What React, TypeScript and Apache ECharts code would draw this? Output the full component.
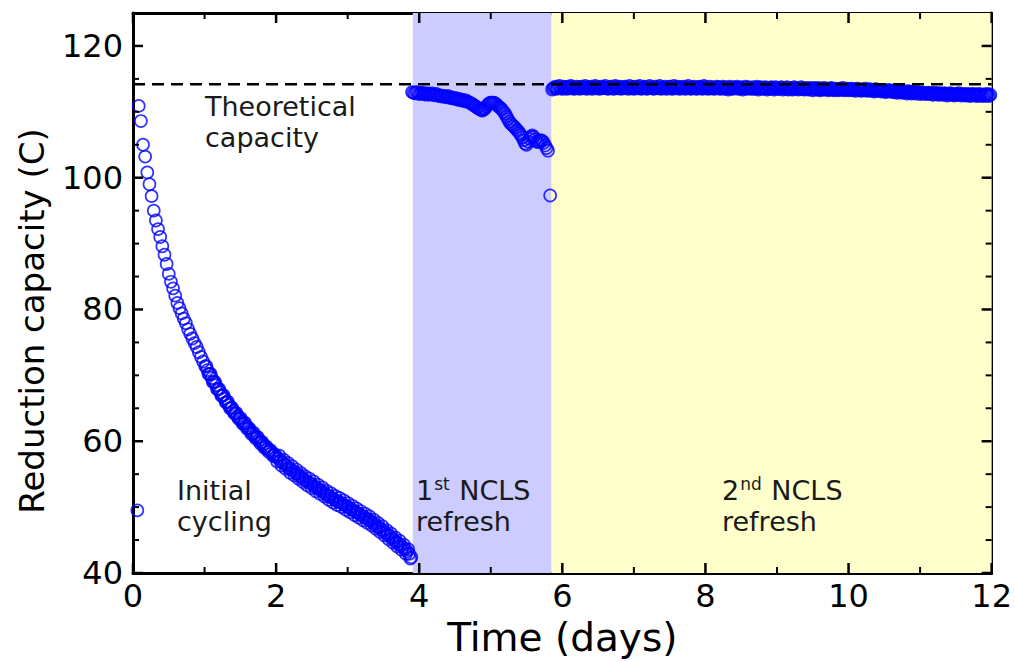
import React, { useEffect, useRef } from "react";
import * as echarts from "echarts";

// Initial cycling: [time (days), reduction capacity (C)]
const initialCycling: [number, number][] = [
  [0.06, 49.5], [0.08, 110.9], [0.11, 108.6], [0.14, 105.0], [0.17, 103.2], [0.20, 100.8],
  [0.23, 99.0], [0.26, 97.2], [0.29, 95.0], [0.32, 93.5], [0.35, 92.2], [0.38, 91.0],
  [0.41, 89.6], [0.44, 88.3], [0.47, 86.9], [0.50, 85.4], [0.53, 84.2], [0.56, 83.2],
  [0.59, 82.1], [0.62, 81.0], [0.65, 80.2], [0.68, 79.4], [0.71, 78.6], [0.74, 77.9],
  [0.77, 77.0], [0.80, 76.3], [0.83, 75.6], [0.86, 74.9], [0.89, 74.3], [0.92, 73.5],
  [0.95, 72.8], [0.98, 72.1], [1.01, 71.4], [1.04, 70.8], [1.07, 70.2], [1.10, 69.6],
  [1.13, 69.0], [1.16, 68.5], [1.19, 67.9], [1.22, 67.4], [1.25, 66.9], [1.28, 66.5],
  [1.31, 65.9], [1.34, 65.5], [1.37, 65.0], [1.40, 64.6], [1.43, 64.3], [1.46, 63.8],
  [1.49, 63.5], [1.52, 63.0], [1.55, 62.7], [1.58, 62.3], [1.61, 62.0], [1.64, 61.5],
  [1.67, 61.2], [1.70, 60.8], [1.73, 60.6], [1.76, 60.1], [1.79, 59.8], [1.82, 59.5],
  [1.85, 59.1], [1.88, 58.8], [1.91, 58.6], [1.94, 58.2], [1.97, 57.9], [2.00, 57.6],
  [2.03, 57.4], [2.06, 57.0], [2.09, 56.8], [2.12, 56.5], [2.15, 56.3], [2.18, 55.9],
  [2.21, 55.7], [2.24, 55.5], [2.27, 55.2], [2.30, 55.0], [2.33, 54.7], [2.36, 54.5],
  [2.39, 54.2], [2.42, 54.0], [2.45, 53.8], [2.48, 53.6], [2.51, 53.4], [2.54, 53.1],
  [2.57, 52.9], [2.60, 52.7], [2.63, 52.5], [2.66, 52.3], [2.69, 52.0], [2.72, 51.8],
  [2.75, 51.6], [2.78, 51.4], [2.81, 51.2], [2.84, 51.0], [2.87, 50.8], [2.90, 50.7],
  [2.93, 50.5], [2.96, 50.3], [2.99, 50.1], [3.02, 49.9], [3.05, 49.7], [3.08, 49.5],
  [3.11, 49.3], [3.14, 49.1], [3.17, 48.9], [3.20, 48.7], [3.23, 48.5], [3.26, 48.3],
  [3.29, 48.1], [3.32, 47.9], [3.35, 47.6], [3.38, 47.4], [3.41, 47.1], [3.44, 46.9],
  [3.47, 46.6], [3.50, 46.4], [3.53, 46.1], [3.56, 45.8], [3.59, 45.6], [3.62, 45.3],
  [3.65, 45.0], [3.68, 44.7], [3.71, 44.4], [3.74, 44.2], [3.77, 43.9], [3.80, 43.6],
  [3.83, 43.3], [3.86, 42.9], [3.89, 42.4],
  [1.025, 71.4], [1.055, 70.2], [1.085, 70.2], [1.115, 69.0], [1.145, 69.0], [1.175, 67.9],
  [1.205, 67.9], [1.235, 66.9], [1.265, 67.0], [1.295, 65.9], [1.325, 66.0], [1.355, 65.0],
  [1.385, 65.1], [1.415, 64.2], [1.445, 64.3], [1.475, 63.4], [1.505, 63.5], [1.535, 62.6],
  [1.565, 62.8], [1.595, 61.9], [1.625, 62.0], [1.655, 61.1], [1.685, 61.3], [1.715, 60.4],
  [1.745, 60.6], [1.775, 59.7], [1.805, 59.9], [1.835, 59.0], [1.865, 59.2], [1.895, 58.4],
  [1.925, 58.6], [1.955, 57.8], [1.985, 58.0],
  [2.015, 56.9], [2.045, 57.8], [2.075, 56.3], [2.105, 57.2], [2.135, 55.8], [2.165, 56.7],
  [2.195, 55.2], [2.225, 56.2], [2.255, 54.8], [2.285, 55.7], [2.315, 54.3], [2.345, 55.2],
  [2.375, 53.8], [2.405, 54.7], [2.435, 53.3], [2.465, 54.3], [2.495, 52.9], [2.525, 53.9],
  [2.555, 52.4], [2.585, 53.4], [2.615, 52.0], [2.645, 53.0], [2.675, 51.6], [2.705, 52.5],
  [2.735, 51.1], [2.765, 52.1], [2.795, 50.7], [2.825, 51.7], [2.855, 50.3], [2.885, 51.4],
  [2.915, 50.0], [2.945, 51.0], [2.975, 49.6], [3.005, 50.6], [3.035, 49.2], [3.065, 50.2],
  [3.095, 48.8], [3.125, 49.8], [3.155, 48.4], [3.185, 49.4], [3.215, 48.0], [3.245, 49.0],
  [3.275, 47.6], [3.305, 48.6], [3.335, 47.2], [3.365, 48.1], [3.395, 46.7], [3.425, 47.6],
  [3.455, 46.2], [3.485, 47.1], [3.515, 45.7], [3.545, 46.5], [3.575, 45.1], [3.605, 46.0],
  [3.635, 44.6], [3.665, 45.4], [3.695, 44.0], [3.725, 44.9], [3.755, 43.5], [3.785, 44.3],
  [3.815, 42.9], [3.845, 43.6], [3.875, 42.2],
];

// 1st NCLS refresh
const firstRefresh: [number, number][] = [
  [3.90, 113.0], [3.92, 112.9], [3.94, 112.8], [3.96, 113.0], [3.98, 112.9], [4.00, 112.7],
  [4.02, 112.8], [4.04, 112.9], [4.06, 112.7], [4.08, 112.8], [4.10, 112.6], [4.12, 112.8],
  [4.14, 112.7], [4.16, 112.6], [4.18, 112.8], [4.20, 112.6], [4.22, 112.5], [4.24, 112.7],
  [4.26, 112.5], [4.28, 112.4], [4.30, 112.5], [4.32, 112.3], [4.34, 112.4], [4.36, 112.3],
  [4.38, 112.2], [4.40, 112.4], [4.42, 112.2], [4.44, 112.1], [4.46, 112.2], [4.48, 112.0],
  [4.50, 112.1], [4.52, 111.9], [4.54, 112.0], [4.56, 111.8], [4.58, 111.9], [4.60, 111.7],
  [4.62, 111.8], [4.64, 111.6], [4.66, 111.7], [4.68, 111.5], [4.70, 111.4], [4.72, 111.3],
  [4.74, 111.2], [4.76, 111.0], [4.78, 110.9], [4.80, 110.7], [4.82, 110.6], [4.84, 110.4],
  [4.86, 110.3], [4.88, 110.2], [4.90, 110.3], [4.92, 110.5], [4.94, 110.8], [4.96, 111.1],
  [4.98, 111.3], [5.00, 111.4], [5.02, 111.4], [5.04, 111.4], [5.06, 111.3], [5.08, 111.1],
  [5.10, 110.9], [5.12, 110.7], [5.14, 110.5], [5.16, 110.3], [5.18, 110.0], [5.20, 109.7],
  [5.22, 109.3], [5.24, 108.9], [5.26, 108.5], [5.28, 108.2], [5.30, 108.0], [5.32, 107.8],
  [5.34, 107.6], [5.36, 107.3], [5.38, 107.1], [5.40, 106.8], [5.42, 106.5], [5.44, 106.1],
  [5.46, 105.7], [5.48, 105.2], [5.50, 105.0], [5.52, 105.5], [5.54, 105.9], [5.56, 106.2],
  [5.58, 106.4], [5.60, 106.2], [5.62, 105.8], [5.64, 105.5], [5.66, 105.4], [5.68, 105.6],
  [5.70, 105.7], [5.72, 105.6], [5.74, 105.3], [5.76, 104.9], [5.78, 104.5], [5.80, 104.1],
  [5.83, 97.3],
];

// 2nd NCLS refresh
const secondRefresh: [number, number][] = [
  [5.86, 113.4], [5.88, 113.6], [5.90, 113.8], [5.92, 113.5], [5.94, 113.7], [5.96, 113.9], [5.98, 113.6], [6.00, 113.5], [6.02, 113.8], [6.04, 113.7],
  [6.06, 113.5], [6.08, 113.8], [6.10, 113.6], [6.12, 113.9], [6.14, 113.7], [6.16, 113.5], [6.18, 113.6], [6.20, 113.8], [6.22, 113.7], [6.24, 113.5],
  [6.26, 113.8], [6.28, 113.6], [6.30, 113.7], [6.32, 113.9], [6.34, 113.5], [6.36, 113.7], [6.38, 113.6], [6.40, 113.8], [6.42, 113.5], [6.44, 113.7],
  [6.46, 113.9], [6.48, 113.6], [6.50, 113.7], [6.52, 113.5], [6.54, 113.8], [6.56, 113.6], [6.58, 113.7], [6.60, 113.9], [6.62, 113.6], [6.64, 113.5],
  [6.66, 113.7], [6.68, 113.8], [6.70, 113.6], [6.72, 113.5], [6.74, 113.9], [6.76, 113.7], [6.78, 113.6], [6.80, 113.8], [6.82, 113.5], [6.84, 113.7],
  [6.86, 113.6], [6.88, 113.8], [6.90, 113.7], [6.92, 113.5], [6.94, 113.9], [6.96, 113.6], [6.98, 113.7], [7.00, 113.5], [7.02, 113.8], [7.04, 113.6],
  [7.06, 113.7], [7.08, 113.9], [7.10, 113.5], [7.12, 113.6], [7.14, 113.8], [7.16, 113.7], [7.18, 113.5], [7.20, 113.6], [7.22, 113.9], [7.24, 113.7],
  [7.26, 113.6], [7.28, 113.5], [7.30, 113.8], [7.32, 113.7], [7.34, 113.6], [7.36, 113.9], [7.38, 113.5], [7.40, 113.7], [7.42, 113.6], [7.44, 113.8],
  [7.46, 113.5], [7.48, 113.7], [7.50, 113.8], [7.52, 113.6], [7.54, 113.5], [7.56, 113.9], [7.58, 113.7], [7.60, 113.6], [7.62, 113.8], [7.64, 113.5],
  [7.66, 113.7], [7.68, 113.6], [7.70, 113.8], [7.72, 113.5], [7.74, 113.7], [7.76, 113.9], [7.78, 113.6], [7.80, 113.5], [7.82, 113.7], [7.84, 113.8],
  [7.86, 113.6], [7.88, 113.5], [7.90, 113.7], [7.92, 113.8], [7.94, 113.6], [7.96, 113.5], [7.98, 113.9], [8.00, 113.7], [8.02, 113.6], [8.04, 113.5],
  [8.06, 113.8], [8.08, 113.6], [8.10, 113.7], [8.12, 113.5], [8.14, 113.6], [8.16, 113.8], [8.18, 113.7], [8.20, 113.5], [8.22, 113.6], [8.24, 113.8],
  [8.26, 113.5], [8.28, 113.7], [8.30, 113.6], [8.32, 113.4], [8.34, 113.8], [8.36, 113.6], [8.38, 113.5], [8.40, 113.7], [8.42, 113.6], [8.44, 113.8],
  [8.46, 113.5], [8.48, 113.6], [8.50, 113.7], [8.52, 113.4], [8.54, 113.6], [8.56, 113.8], [8.58, 113.5], [8.60, 113.7], [8.62, 113.6], [8.64, 113.5],
  [8.66, 113.7], [8.68, 113.5], [8.70, 113.6], [8.72, 113.8], [8.74, 113.4], [8.76, 113.6], [8.78, 113.7], [8.80, 113.5], [8.82, 113.6], [8.84, 113.7],
  [8.86, 113.4], [8.88, 113.6], [8.90, 113.5], [8.92, 113.7], [8.94, 113.6], [8.96, 113.4], [8.98, 113.7], [9.00, 113.5], [9.02, 113.6], [9.04, 113.5],
  [9.06, 113.7], [9.08, 113.4], [9.10, 113.6], [9.12, 113.5], [9.14, 113.7], [9.16, 113.4], [9.18, 113.5], [9.20, 113.6], [9.22, 113.4], [9.24, 113.7],
  [9.26, 113.5], [9.28, 113.6], [9.30, 113.4], [9.32, 113.5], [9.34, 113.7], [9.36, 113.5], [9.38, 113.4], [9.40, 113.6], [9.42, 113.5], [9.44, 113.4],
  [9.46, 113.6], [9.48, 113.5], [9.50, 113.3], [9.52, 113.6], [9.54, 113.5], [9.56, 113.4], [9.58, 113.6], [9.60, 113.3], [9.62, 113.5], [9.64, 113.4],
  [9.66, 113.6], [9.68, 113.4], [9.70, 113.5], [9.72, 113.3], [9.74, 113.5], [9.76, 113.6], [9.78, 113.4], [9.80, 113.3], [9.82, 113.5], [9.84, 113.4],
  [9.86, 113.3], [9.88, 113.5], [9.90, 113.4], [9.92, 113.6], [9.94, 113.3], [9.96, 113.4], [9.98, 113.5], [10.00, 113.3], [10.02, 113.4], [10.04, 113.5],
  [10.06, 113.3], [10.08, 113.4], [10.10, 113.2], [10.12, 113.5], [10.14, 113.4], [10.16, 113.3], [10.18, 113.2], [10.20, 113.4], [10.22, 113.3], [10.24, 113.5],
  [10.26, 113.2], [10.28, 113.3], [10.30, 113.4], [10.32, 113.2], [10.34, 113.3], [10.36, 113.1], [10.38, 113.4], [10.40, 113.3], [10.42, 113.2], [10.44, 113.3],
  [10.46, 113.1], [10.48, 113.3], [10.50, 113.2], [10.52, 113.0], [10.54, 113.2], [10.56, 113.3], [10.58, 113.1], [10.60, 113.2], [10.62, 113.0], [10.64, 113.2],
  [10.66, 113.1], [10.68, 112.9], [10.70, 113.2], [10.72, 113.0], [10.74, 113.1], [10.76, 112.9], [10.78, 113.1], [10.80, 113.0], [10.82, 112.8], [10.84, 113.1],
  [10.86, 113.0], [10.88, 112.8], [10.90, 113.0], [10.92, 112.9], [10.94, 112.8], [10.96, 113.0], [10.98, 112.9], [11.00, 112.7], [11.02, 112.9], [11.04, 112.8],
  [11.06, 112.9], [11.08, 112.7], [11.10, 112.8], [11.12, 112.9], [11.14, 112.7], [11.16, 112.8], [11.18, 112.6], [11.20, 112.9], [11.22, 112.7], [11.24, 112.8],
  [11.26, 112.6], [11.28, 112.8], [11.30, 112.7], [11.32, 112.6], [11.34, 112.8], [11.36, 112.7], [11.38, 112.5], [11.40, 112.7], [11.42, 112.8], [11.44, 112.6],
  [11.46, 112.7], [11.48, 112.5], [11.50, 112.7], [11.52, 112.6], [11.54, 112.8], [11.56, 112.6], [11.58, 112.5], [11.60, 112.7], [11.62, 112.6], [11.64, 112.5],
  [11.66, 112.7], [11.68, 112.6], [11.70, 112.4], [11.72, 112.6], [11.74, 112.7], [11.76, 112.5], [11.78, 112.6], [11.80, 112.4], [11.82, 112.7], [11.84, 112.5],
  [11.86, 112.6], [11.88, 112.4], [11.90, 112.6], [11.92, 112.5], [11.94, 112.7], [11.96, 112.4], [11.98, 112.6],
];

const theoreticalCapacity = 114.2;
const refresh1Region: [number, number] = [3.91, 5.85];
const refresh2Region: [number, number] = [5.85, 12];

const xMajorTicks = [0, 2, 4, 6, 8, 10, 12];
const xMinorTicks = [1, 3, 5, 7, 9, 11];
const yMajorTicks = [40, 60, 80, 100, 120];
const yMinorTicks = [45, 50, 55, 65, 70, 75, 85, 90, 95, 105, 110, 115];

const X_MIN = 0;
const X_MAX = 12;
const Y_MIN = 40;
const Y_MAX = 125;

const FONT = "DejaVu Sans";
const MAJOR_LEN = 10;
const MINOR_LEN = 6;

export default function App() {
  const ref = useRef<HTMLDivElement>(null);

  useEffect(() => {
    if (!ref.current) return;
    const chart = echarts.init(ref.current, undefined, { renderer: "svg" });

    // tick data: [x, y, length, dim]
    const tickData: number[][] = [
      ...xMajorTicks.map((v) => [v, Y_MIN, MAJOR_LEN, 0]),
      ...xMinorTicks.map((v) => [v, Y_MIN, MINOR_LEN, 0]),
      ...yMajorTicks.map((v) => [X_MIN, v, MAJOR_LEN, 1]),
      ...yMinorTicks.map((v) => [X_MIN, v, MINOR_LEN, 1]),
    ];

    const axisLineMain = { show: true, onZero: false, lineStyle: { color: "#000", width: 3 } };
    const xBase = { type: "value" as const, min: X_MIN, max: X_MAX, splitLine: { show: false }, axisTick: { show: false } };
    const yBase = { type: "value" as const, min: Y_MIN, max: Y_MAX, splitLine: { show: false }, axisTick: { show: false } };

    const circleStyle = {
      color: "rgba(0,0,0,0)",
      borderColor: "#0000ff",
      borderWidth: 1.7,
    };

    const textStyle = { fontFamily: FONT, fontSize: 27, fill: "#1a1a1a", lineHeight: 31 };
    const richSup = {
      n: { fontFamily: FONT, fontSize: 27, color: "#1a1a1a", lineHeight: 31 },
      sup: { fontFamily: FONT, fontSize: 17, color: "#1a1a1a", lineHeight: 31, verticalAlign: "top" as const, padding: [0, 1, 0, 1] },
    };

    chart.setOption({
      animation: false,
      backgroundColor: "#fff",
      grid: { left: 133, right: 23, top: 13, bottom: 88, containLabel: false },
      xAxis: [
        {
          ...xBase,
          position: "bottom",
          interval: 2,
          axisLine: axisLineMain,
          axisLabel: { fontFamily: FONT, fontSize: 32, color: "#000", margin: 7 },
          name: "Time (days)",
          nameLocation: "middle",
          nameGap: 45,
          nameTextStyle: { fontFamily: FONT, fontSize: 39, color: "#000" },
        },
        { ...xBase, position: "top", interval: 2, axisLine: axisLineMain, axisLabel: { show: false } },
      ],
      yAxis: [
        {
          ...yBase,
          position: "left",
          interval: 20,
          axisLine: axisLineMain,
          axisLabel: { fontFamily: FONT, fontSize: 32, color: "#000", margin: 10, showMaxLabel: false },
        },
        { ...yBase, position: "right", interval: 20, axisLine: axisLineMain, axisLabel: { show: false } },
      ],
      series: [
        {
          type: "line",
          name: "regions",
          data: [],
          silent: true,
          markArea: {
            silent: true,
            data: [
              [
                { xAxis: refresh1Region[0], itemStyle: { color: "#ccccff" } },
                { xAxis: refresh1Region[1] },
              ],
              [
                { xAxis: refresh2Region[0], itemStyle: { color: "#ffffcc" } },
                { xAxis: refresh2Region[1] },
              ],
            ],
          },
          z: 1,
        },
        {
          type: "scatter",
          name: "Initial cycling",
          data: initialCycling,
          symbol: "circle",
          symbolSize: 12,
          itemStyle: circleStyle,
          z: 3,
        },
        {
          type: "scatter",
          name: "1st NCLS refresh",
          data: firstRefresh,
          symbol: "circle",
          symbolSize: 12,
          itemStyle: circleStyle,
          z: 3,
        },
        {
          type: "scatter",
          name: "2nd NCLS refresh",
          data: secondRefresh,
          symbol: "circle",
          symbolSize: 12,
          itemStyle: { ...circleStyle, borderWidth: 2 },
          z: 3,
        },
        {
          type: "line",
          name: "Theoretical capacity",
          data: [
            [X_MIN, theoreticalCapacity],
            [X_MAX, theoreticalCapacity],
          ],
          symbol: "none",
          lineStyle: { color: "#000", width: 2.5, type: [12, 7] },
          z: 5,
        },
        {
          type: "custom",
          name: "ticks",
          silent: true,
          clip: false,
          z: 6,
          data: tickData,
          renderItem: (params: any, api: any) => {
            const cs = params.coordSys;
            const len = api.value(2);
            const dim = api.value(3);
            const lw = len === MAJOR_LEN ? 2.5 : 2;
            const style = { stroke: "#000", lineWidth: lw };
            if (dim === 0) {
              const p = api.coord([api.value(0), Y_MIN]);
              const bottom = cs.y + cs.height;
              return {
                type: "group",
                children: [
                  { type: "line", shape: { x1: p[0], y1: bottom, x2: p[0], y2: bottom - len }, style },
                  { type: "line", shape: { x1: p[0], y1: cs.y, x2: p[0], y2: cs.y + len }, style },
                ],
              };
            }
            const p = api.coord([X_MIN, api.value(1)]);
            const right = cs.x + cs.width;
            return {
              type: "group",
              children: [
                { type: "line", shape: { x1: cs.x, y1: p[1], x2: cs.x + len, y2: p[1] }, style },
                { type: "line", shape: { x1: right, y1: p[1], x2: right - len, y2: p[1] }, style },
              ],
            };
          },
        },
      ],
      graphic: [
        {
          type: "text",
          x: 32,
          y: 321,
          rotation: Math.PI / 2,
          z: 10,
          style: {
            text: "Reduction capacity (C)",
            fontFamily: FONT,
            fontSize: 34,
            fill: "#000",
            align: "center",
            verticalAlign: "middle",
          },
        },
        { type: "text", left: 205, top: 91, z: 10, style: { ...textStyle, text: "Theoretical\ncapacity" } },
        { type: "text", left: 177, top: 475, z: 10, style: { ...textStyle, text: "Initial\ncycling" } },
        {
          type: "text",
          left: 416,
          top: 475,
          z: 10,
          style: { ...textStyle, text: "{n|1}{sup|st}{n| NCLS}\n{n|refresh}", rich: richSup },
        },
        {
          type: "text",
          left: 722,
          top: 475,
          z: 10,
          style: { ...textStyle, text: "{n|2}{sup|nd}{n| NCLS}\n{n|refresh}", rich: richSup },
        },
      ],
    });

    return () => chart.dispose();
  }, []);

  return (
    <div
      ref={ref}
      style={{ position: "fixed", left: 0, top: 0, width: 1015, height: 662, background: "#fff" }}
    />
  );
}
